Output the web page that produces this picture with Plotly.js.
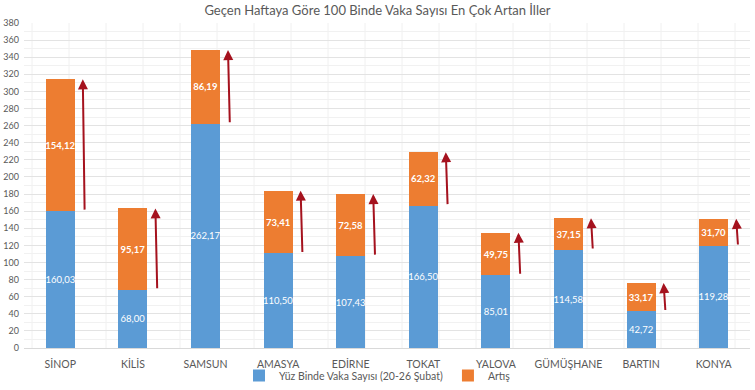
<!DOCTYPE html>
<html><head><meta charset="utf-8">
<script src="https://cdn.plot.ly/plotly-3.0.1.min.js"></script>
<style>html,body{margin:0;padding:0;background:#fff}</style>
</head><body>
<div id="chart" style="width:755px;height:390px"></div>
<script>
const cities = ["SİNOP","KİLİS","SAMSUN","AMASYA","EDİRNE","TOKAT","YALOVA","GÜMÜŞHANE","BARTIN","KONYA"];
const baseVals = [160.03,68.00,262.17,110.50,107.43,166.50,85.01,114.58,42.72,119.28];
const incVals = [154.12,95.17,86.19,73.41,72.58,62.32,49.75,37.15,33.17,31.70];
const yTicks = [0,20,40,60,80,100,120,140,160,180,200,220,240,260,280,300,320,340,360,380];

const fmt = v => v.toFixed(2).replace('.', ',');
const FONT = 'Lato, "Open Sans", sans-serif';

const traces = [
  {type:'bar', x:cities, y:baseVals, name:'Yüz Binde Vaka Sayısı (20-26 Şubat)',
   marker:{color:'#5B9BD5'}, text:baseVals.map(fmt), textposition:'inside',
   insidetextanchor:'middle', textangle:0, constraintext:'none',
   textfont:{color:'#ffffff', size:9.5, family:FONT}, hoverinfo:'none'},
  {type:'bar', x:cities, y:incVals, name:'Artış',
   marker:{color:'#ED7D31'}, text:incVals.map(fmt), textposition:'inside',
   insidetextanchor:'middle', textangle:0, constraintext:'none',
   textfont:{color:'#ffffff', size:9.5, family:FONT, weight:'bold'}, hoverinfo:'none'}
];

const annotations = cities.map((c,i)=>({
  x: i+0.31, y: baseVals[i]+incVals[i], xref:'x', yref:'y',
  ax: i+0.335, ay: baseVals[i], axref:'x', ayref:'y',
  showarrow:true, arrowhead:2, arrowsize:1, arrowwidth:2, arrowcolor:'#A5121E', text:''
}));

const shapes = [];
for (let k=0; k<20; k++) {
  const px = (k*37 + 8)/726;
  if (px>0 && px<1) shapes.push({type:'line', xref:'paper', yref:'paper', x0:px, x1:px, y0:0, y1:1,
    line:{color:'#f0f0f0', width:1}, layer:'below'});
}

const layout = {
  width:755, height:390,
  margin:{l:24, r:5, t:23, b:42},
  paper_bgcolor:'#ffffff', plot_bgcolor:'#ffffff',
  barmode:'stack', bargap:0.6,
  title:{text:'Geçen Haftaya Göre 100 Binde Vaka Sayısı En Çok Artan İller',
    font:{family:FONT, size:13, color:'#595959'}, x:0.5, xanchor:'center', y:0.985, yanchor:'top'},
  xaxis:{type:'category', tickfont:{family:FONT, size:10.5, color:'#595959'},
    showgrid:false, zeroline:false, showline:false, ticks:'', automargin:false, ticklabelstandoff:8},
  yaxis:{range:[0,380], tickvals:yTicks, ticktext:yTicks.map(String),
    tickfont:{family:FONT, size:9, color:'#595959'}, gridcolor:'#e3e3e3', gridwidth:1,
    minor:{dtick:10, showgrid:true, gridcolor:'#f1f1f1'},
    zeroline:true, zerolinecolor:'#d9d9d9', ticklabelstandoff:4, automargin:false, fixedrange:true},
  legend:{orientation:'h', xref:'container', yref:'container', x:0.5, xanchor:'center', y:-0.015, yanchor:'bottom',
    bgcolor:'rgba(0,0,0,0)', font:{family:FONT, size:10.5, color:'#595959'}, itemwidth:30, traceorder:'normal'},
  annotations: annotations,
  shapes: shapes,
  showlegend:true
};

Plotly.newPlot('chart', traces, layout, {displayModeBar:false, staticPlot:true});
</script>
</body></html>
